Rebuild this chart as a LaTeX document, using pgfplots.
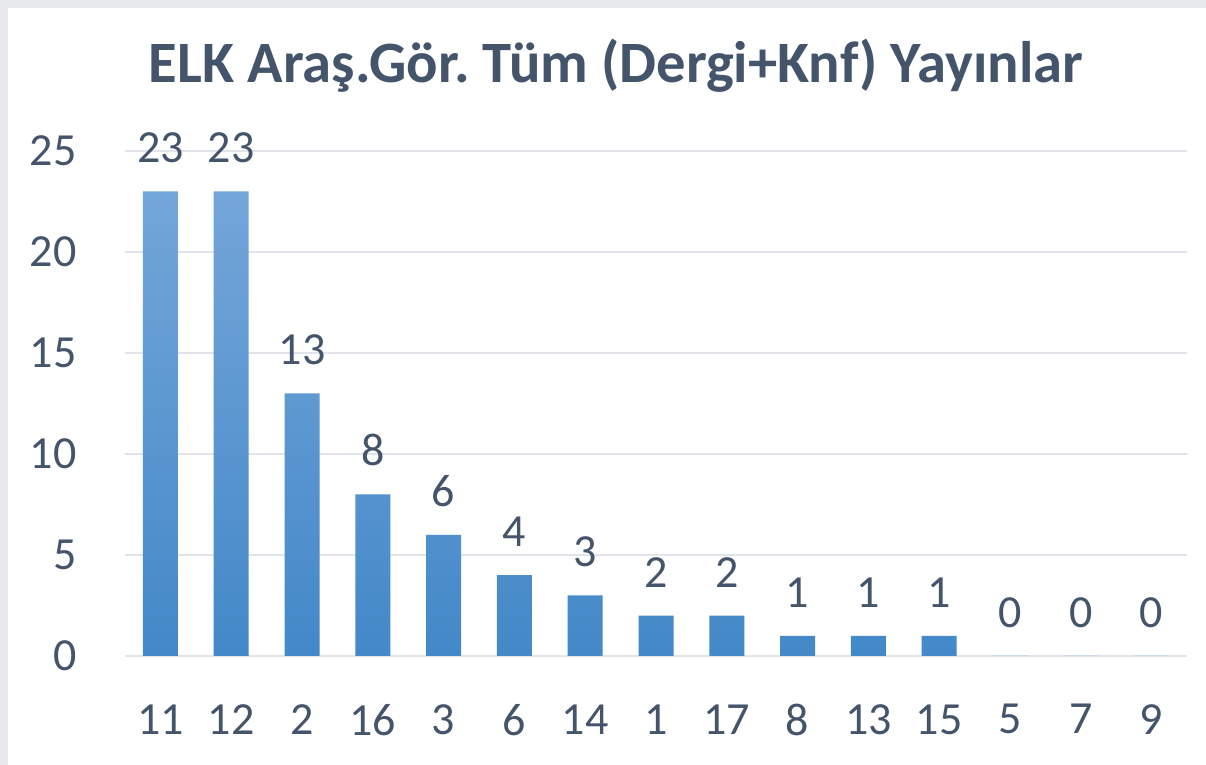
\documentclass[border=0pt]{standalone}
\usepackage{pgfplots}
\pgfplotsset{compat=1.18}
\usepackage{fontspec}
\setmainfont{Carlito}
\definecolor{txt}{HTML}{44546A}
\definecolor{gridc}{HTML}{E1E4EA}
\definecolor{framec}{HTML}{E6E8EB}
\definecolor{btop}{HTML}{74A6D9}
\definecolor{bmid}{HTML}{559CDE}
\definecolor{bbot}{HTML}{4388C8}
\begin{document}
\begin{tikzpicture}
\useasboundingbox (0,0) rectangle (603pt,382.5pt);
\fill[framec] (0,0) rectangle (603pt,382.5pt);
\fill[white] (4pt,0) rectangle (603pt,378.5pt);
\node[anchor=base, font=\fontsize{29.3pt}{34pt}\selectfont\bfseries, text=txt, inner sep=0pt] at (308pt,341pt) {ELK Araş.Gör.\ Tüm (Dergi+Knf) Yayınlar};
\begin{axis}[
  at={(62.5pt,54.5pt)}, anchor=south west,
  scale only axis, width=531pt, height=252.5pt,
  xmin=-0.5, xmax=14.5, ymin=0, ymax=25,
  axis line style={draw=none},
  major tick length=0pt,
  ytick={0,5,10,15,20,25},
  xtick=data,
  xticklabels={11,12,2,16,3,6,14,1,17,8,13,15,5,7,9},
  xmajorgrids=false,
  ymajorgrids, grid style={draw=gridc, line width=0.8pt},
  tick label style={font=\fontsize{23pt}{27pt}\selectfont, text=txt},
  /pgf/number format/assume math mode=true,
  yticklabel style={inner sep=0pt, anchor=east, xshift=-24pt},
  xticklabel style={inner sep=0pt, anchor=north, yshift=-24pt},
  clip=false,
]
\addplot[ybar, bar width=17.5pt, draw=none, top color=btop, middle color=bmid, bottom color=bbot,
  nodes near coords, nodes near coords style={font=\fontsize{23pt}{27pt}\selectfont, text=txt, inner sep=0pt, anchor=south, yshift=14pt},
  /pgf/number format/assume math mode=true]
 coordinates {(0,23) (1,23) (2,13) (3,8) (4,6) (5,4) (6,3) (7,2) (8,2) (9,1) (10,1) (11,1) (12,0) (13,0) (14,0)};
\end{axis}
\end{tikzpicture}
\end{document}
